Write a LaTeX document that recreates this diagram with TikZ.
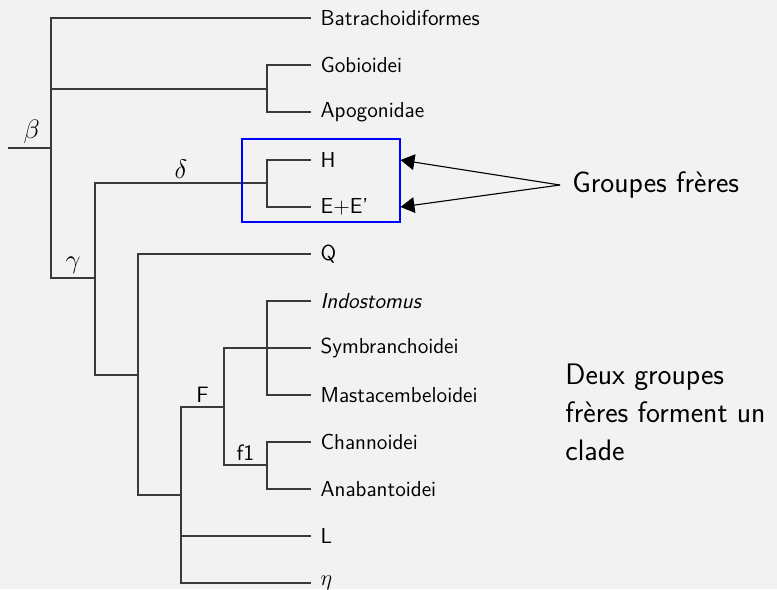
\documentclass[tikz,border=0pt]{standalone}
\usepackage{amsmath,amssymb}
\usepackage{tikz}
\usetikzlibrary{arrows.meta,positioning,fit}
\definecolor{bggray}{HTML}{F2F2F2}
\definecolor{branchgray}{HTML}{3A3A3A}
\tikzset{
  leaf/.style ={anchor=west, inner xsep=5pt, inner ysep=0pt,
                font=\sffamily\fontsize{11.7}{14}\selectfont},
  br/.style   ={draw=branchgray, line width=0.6pt},
  lbl/.style  ={above, inner sep=2pt, font=\fontsize{14}{16}\selectfont},
  slbl/.style ={above, inner sep=2pt, font=\sffamily\large},
  cbox/.style ={draw=blue, line width=0.6pt, inner sep=0pt},
  note/.style ={font=\sffamily\fontsize{16}{20.5}\selectfont, align=left,
                inner xsep=6.5pt},
  ar/.style   ={-{Triangle[length=7.5pt,width=8.5pt]}, draw=black, line width=0.6pt}
}
\begin{document}
\begin{tikzpicture}[x=0.54pt, y=-0.54pt]
\path[use as bounding box, fill=bggray] (0,0) rectangle (777,589);

\coordinate (stem)  at (8,148);
\coordinate (beta)  at (51,148);
\coordinate (gob)   at (267,89);
\coordinate (gamma) at (95,278);
\coordinate (delta) at (267,183);
\coordinate (nq)    at (138,375);
\coordinate (nl)    at (181,495);
\coordinate (nf)    at (224,407);
\coordinate (nsym)  at (267,348);
\coordinate (nf1)   at (267,465);

\node[leaf] (batr) at (311,18)  {Batrachoidiformes};
\node[leaf] (gobi) at (311,65)  {Gobioidei};
\node[leaf] (apog) at (311,112) {Apogonidae};
\node[leaf] (hgrp) at (311,160) {H};
\node[leaf] (egrp) at (311,207) {E+E'};
\node[leaf] (qgrp) at (311,254) {Q};
\node[leaf] (indo) at (311,301) {\textit{Indostomus}};
\node[leaf] (symb) at (311,348) {Symbranchoidei};
\node[leaf] (mast) at (311,395) {Mastacembeloidei};
\node[leaf] (chan) at (311,442) {Channoidei};
\node[leaf] (anab) at (311,489) {Anabantoidei};
\node[leaf] (lgrp) at (311,536) {L};
\node[leaf] (etag) at (311,583) {$\eta$};

\draw[br] (stem) -- node[lbl,pos=0.55]{$\beta$} (beta);
\draw[br] (beta) |- (batr.west);
\draw[br] (beta) |- (gob);
\draw[br] (beta) |- node[lbl,pos=0.75]{$\gamma$} (gamma);
\draw[br] (gob) |- (gobi.west);
\draw[br] (gob) |- (apog.west);
\draw[br] (gamma) |- node[lbl,pos=0.75]{$\delta$} (delta);
\draw[br] (gamma) |- (nq);
\draw[br] (delta) |- (hgrp.west);
\draw[br] (delta) |- (egrp.west);
\draw[br] (nq) |- (qgrp.west);
\draw[br] (nq) |- (nl);
\draw[br] (nl) |- node[slbl,pos=0.75]{F} (nf);
\draw[br] (nl) |- (lgrp.west);
\draw[br] (nl) |- (etag.west);
\draw[br] (nf) |- (nsym);
\draw[br] (nf) |- node[slbl,pos=0.75]{f1} (nf1);
\draw[br] (nsym) |- (indo.west);
\draw[br] (nsym) -- (symb.west);
\draw[br] (nsym) |- (mast.west);
\draw[br] (nf1) |- (chan.west);
\draw[br] (nf1) |- (anab.west);

\node[cbox, fit={(242,139) (400,222)}] (clade) {};
\node[note, anchor=west] (sister) at (560,185) {Groupes frères};
\draw[ar] (sister.west) -- (clade.east |- hgrp);
\draw[ar] (sister.west) -- (clade.east |- egrp);

\node[note, anchor=base west] (deux) at (553,460)
     {Deux groupes\\frères forment un\\clade};
\end{tikzpicture}
\end{document}
